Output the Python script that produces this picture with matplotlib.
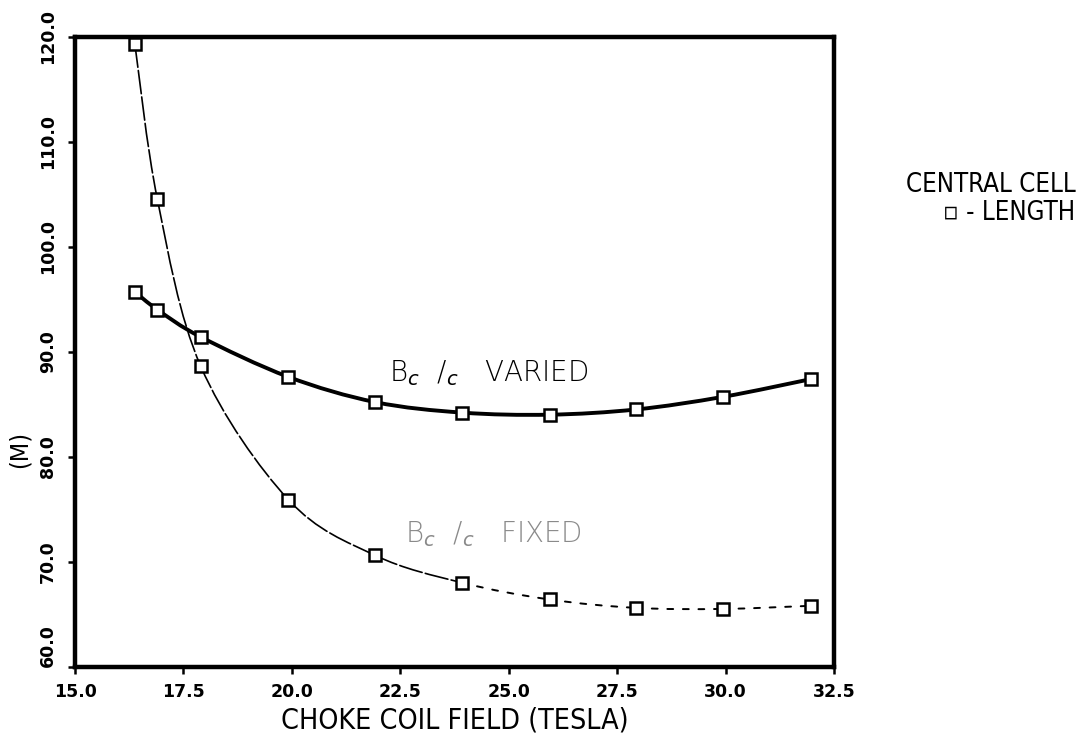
import numpy as np
import matplotlib
matplotlib.use('Agg')
import matplotlib.pyplot as plt
from matplotlib.path import Path
from matplotlib.patches import PathPatch

# choke coil field (tesla) at each computed design point
field = [16.38, 16.9, 17.9, 19.92, 21.92, 23.92, 25.94, 27.94, 29.94, 31.98]
# central cell length (m), ratio of fields varied
len_varied = [95.7, 94.0, 91.4, 87.6, 85.2, 84.2, 84.0, 84.5, 85.7, 87.4]
# central cell length (m), ratio of fields fixed
len_fixed = [119.3, 104.5, 88.6, 75.9, 70.6, 68.0, 66.4, 65.6, 65.5, 65.8]

xticks = [15.0, 17.5, 20.0, 22.5, 25.0, 27.5, 30.0, 32.5]
yticks = [60.0, 70.0, 80.0, 90.0, 100.0, 110.0, 120.0]

tick_font = 'DejaVu Sans'
label_font = 'DejaVu Sans'


def smooth_segments(xs, ys):
    # catmull-rom through the points, one cubic bezier per interval
    xs = np.asarray(xs, float)
    ys = np.asarray(ys, float)
    px = np.concatenate([[xs[0]], xs, [xs[-1]]])
    py = np.concatenate([[ys[0]], ys, [ys[-1]]])
    segs = []
    for i in range(1, len(px) - 2):
        p0 = np.array([px[i - 1], py[i - 1]])
        p1 = np.array([px[i], py[i]])
        p2 = np.array([px[i + 1], py[i + 1]])
        p3 = np.array([px[i + 2], py[i + 2]])
        c1 = p1 + (p2 - p0) / 6.0
        c2 = p2 - (p3 - p1) / 6.0
        segs.append((p1, c1, c2, p2))
    return segs


def seg_patch(seg, **kw):
    verts = [tuple(v) for v in seg]
    codes = [Path.MOVETO, Path.CURVE4, Path.CURVE4, Path.CURVE4]
    return PathPatch(Path(verts, codes), facecolor='none', capstyle='round', **kw)


fig = plt.figure(figsize=(10.84, 7.36), dpi=100)
ax = fig.add_axes([0.0692, 0.0942, 0.7002, 0.8559])

# B varied: heavy solid curve
for seg in smooth_segments(field, len_varied):
    ax.add_patch(seg_patch(seg, edgecolor='black', linewidth=2.8))

# B fixed: thin curve, breaking up toward high field
for i, seg in enumerate(smooth_segments(field, len_fixed)):
    if i < 5:
        ax.add_patch(seg_patch(seg, edgecolor='black', linewidth=1.2, linestyle=(0, (14, 2))))
    else:
        ax.add_patch(seg_patch(seg, edgecolor='black', linewidth=1.4, linestyle=(0, (3, 5))))

ax.plot(field, len_varied, linestyle='none', marker='s', markersize=8,
        markerfacecolor='white', markeredgecolor='black', markeredgewidth=1.8, zorder=5)
ax.plot(field, len_fixed, linestyle='none', marker='s', markersize=8,
        markerfacecolor='white', markeredgecolor='black', markeredgewidth=1.8, zorder=5)

ax.set_xlim(15.0, 32.5)
ax.set_ylim(60.0, 120.0)
ax.set_xticks(xticks)
ax.set_yticks(yticks)
ax.set_xticklabels(['%.1f' % v for v in xticks], fontfamily=tick_font,
                   fontweight='bold', fontsize=12.5)
ylabels = ax.set_yticklabels(['%.1f' % v for v in yticks], fontfamily=tick_font,
                             fontweight='bold', fontsize=12.5, rotation=90, va='center')
# bottom label sits above its tick, clear of the 15.0 label
ylabels[0].set_va('bottom')
ax.tick_params(axis='both', direction='out', length=5, width=1.8, colors='black')
ax.tick_params(axis='x', pad=7)
ax.tick_params(axis='y', pad=8)

for sp in ax.spines.values():
    sp.set_linewidth(3.2)

ax.set_xlabel('CHOKE COIL FIELD (TESLA)', fontfamily=label_font, fontstretch='condensed',
              fontsize=20.5, labelpad=4)
ax.set_ylabel('(M)', fontfamily=label_font, fontstretch='condensed', fontsize=18)
ax.yaxis.set_label_coords(-0.057, 0.345)

# hand-lettered notes on the curves
ax.text(22.25, 88.0, r'B$_c$  /$_c$   VARIED', fontfamily=tick_font, fontsize=20,
        fontweight='light', va='center', ha='left', color='black')
ax.text(22.6, 72.6, r'B$_c$  /$_c$   FIXED', fontfamily=tick_font, fontsize=20,
        fontweight='light', va='center', ha='left', color='#8a8a8a')

fig.text(0.992, 0.748, 'CENTRAL CELL', fontfamily=label_font, fontstretch='condensed',
         fontsize=18.5, ha='right', va='center')
fig.text(0.992, 0.710, '\u25ab - LENGTH', fontfamily=label_font, fontstretch='condensed',
         fontsize=18.5, ha='right', va='center')

fig.savefig('out.png', dpi=100, facecolor='white')
